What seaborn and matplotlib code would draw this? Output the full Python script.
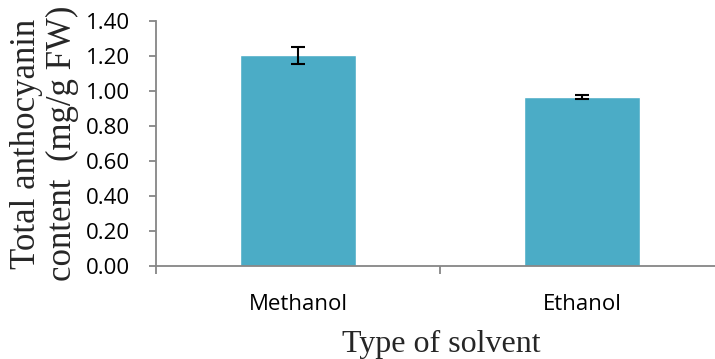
import matplotlib
matplotlib.use("Agg")
import matplotlib.pyplot as plt
import seaborn as sns
import pandas as pd
import numpy as np
from matplotlib.ticker import FixedLocator

categories = ["Methanol", "Ethanol"]
values = [1.204, 0.966]
errors = [0.048, 0.012]
yticks = [0.0, 0.2, 0.4, 0.6, 0.8, 1.0, 1.2, 1.4]

sns.set_style("white")
plt.rcParams["font.family"] = ["Open Sans", "DejaVu Sans"]

df = pd.DataFrame({"solvent": categories, "value": values})

fig = plt.figure(figsize=(7.15, 3.59), dpi=100)
ax = fig.add_axes([156/715, 93/359, 1 - 156/715, (266-21)/359])

sns.barplot(data=df, x="solvent", y="value", color="#4BACC6", width=0.41,
            saturation=1, ax=ax, errorbar=None)
ax.errorbar(np.arange(len(categories)), values, yerr=errors, fmt="none",
            ecolor="black", elinewidth=1.5, capsize=5, capthick=1.5)

ax.set_ylim(0, 1.4)
ax.set_xlim(-0.5, 1.468)
ax.set_yticks(yticks)
ax.set_yticklabels([f"{t:.2f}" for t in yticks])

for s in ["top", "right"]:
    ax.spines[s].set_visible(False)
for s in ["left", "bottom"]:
    ax.spines[s].set_color("#868686")
    ax.spines[s].set_linewidth(1.3)

ax.tick_params(axis="y", direction="out", length=5, width=1.3, color="#868686",
               pad=14, labelsize=16, labelcolor="black", left=True)
ax.tick_params(axis="x", which="major", length=0, pad=20, labelsize=16, labelcolor="black")
ax.xaxis.set_minor_locator(FixedLocator([-0.5, 0.5, 1.5]))
ax.tick_params(axis="x", which="minor", direction="out", length=6, width=1.3,
               color="#868686", bottom=True)

ax.set_xlabel("Type of solvent", family=["Liberation Serif"], fontsize=23)
ax.xaxis.set_label_coords(0.51, -0.26)
ax.set_ylabel("Total anthocyanin\ncontent  (mg/g FW)", family=["Liberation Serif"],
              fontsize=25, labelpad=5, linespacing=1.1)

fig.savefig("out.png", dpi=100)
